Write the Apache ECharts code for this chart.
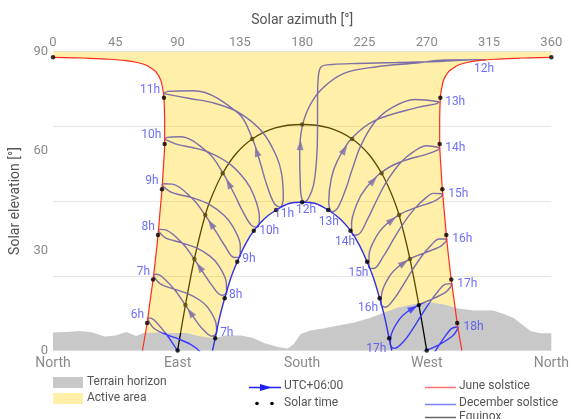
<!DOCTYPE html>
<html>
<head>
<meta charset="utf-8">
<script src="https://cdn.jsdelivr.net/npm/echarts/dist/echarts.min.js"></script>
<style>
html,body{margin:0;padding:0;background:#fff;}
#chart{width:572px;height:419px;}
</style>
</head>
<body>
<div id="chart"></div>
<script>
// Axis labels
const compassLabels = ['North', 'East', 'South', 'West', 'North'];
const hourNames = ['6h','7h','8h','9h','10h','11h','12h','13h','14h','15h','16h','17h','18h'];
const decHourNames = ['7h','8h','9h','10h','11h','12h','13h','14h','15h','16h','17h'];

// Terrain horizon profile [azimuth, elevation]
const terrain = [[0,5.42],[9.30,5.57],[19.32,5.87],[28.63,5.42],[37.22,4.21],[45.09,4.52],[52.96,5.57],[60.12,4.36],[66.56,5.42],[76.58,5.42],[87.32,5.27],[96.62,5.27],[105.21,4.36],[115.23,3.76],[125.25,4.52],[135.99,4.52],[144.58,3.76],[152.45,2.26],[162.47,1.05],[169.63,0.60],[173.92,1.96],[178.93,4.97],[186.09,6.02],[196.11,6.68],[206.13,7.53],[217.58,8.43],[229.03,9.78],[238.33,11.29],[249.07,12.94],[261.23,14.0],[273.40,14.45],[282.71,13.85],[292.73,12.64],[304.18,12.04],[317.78,12.04],[325.65,10.99],[332.81,9.78],[339.25,7.68],[344.98,5.87],[352.13,5.18],[360,5.18]];

// June solstice sun path, morning half (north at noon) and afternoon half
const juneMorning = [[0,88.26],[15.75,88.11],[26.48,87.96],[40.80,87.66],[52.75,87.24],[60.84,86.69],[67.06,85.94],[71.21,84.89],[74.22,83.93],[77.80,81.43],[79.44,78.42],[80.16,76.10],[80.66,69.39],[80.66,62.16],[79.80,55.54],[78.73,48.52],[77.30,41.69],[75.87,34.77],[74.22,28.15],[72.29,21.34],[70.14,14.90],[67.99,8.28],[64.63,0]];
const juneAfternoon = [[360,88.26],[344.25,88.11],[333.52,87.96],[319.20,87.66],[307.25,87.24],[299.16,86.69],[292.94,85.94],[288.79,84.89],[285.78,83.93],[282.20,81.43],[280.56,78.42],[279.84,76.10],[279.34,69.39],[279.34,62.16],[280.20,55.54],[281.27,48.52],[282.70,41.69],[284.13,34.77],[285.78,28.15],[287.71,21.34],[289.86,14.90],[292.01,8.28],[295.37,0]];

// December solstice sun path
const decSolstice = [[115.23,0],[117.16,3.67],[120.53,10.26],[124.03,15.71],[128.40,21.76],[133.12,26.73],[138.85,31.88],[145.08,36.06],[152.88,39.73],[161.25,42.29],[170.41,44.25],[180,44.61],[189.59,44.25],[198.75,42.29],[207.12,39.73],[214.92,36.06],[221.15,31.88],[226.88,26.73],[231.60,21.76],[235.97,15.71],[239.47,10.26],[242.84,3.67],[244.77,0]];

// Equinox sun path
const equinox = [[90,0],[95.69,13.70],[102.13,27.54],[110.01,40.79],[115.83,47.45],[122.60,53.34],[131.89,59.07],[143.86,63.67],[160.54,67.01],[180,68.03],[199.46,67.01],[216.14,63.67],[228.11,59.07],[237.40,53.34],[244.17,47.45],[249.99,40.79],[257.87,27.54],[264.31,13.70],[270,0]];

// Whole solar hours on each path
const juneSolarTime = [[67.99,8.28],[72.29,21.34],[75.87,34.77],[78.73,48.52],[80.66,62.16],[80.16,76.10],[0,88.26],[360,88.26],[279.84,76.10],[279.34,62.16],[281.27,48.52],[284.13,34.77],[287.71,21.34],[292.01,8.28]];
const equinoxSolarTime = [[90,0],[95.69,13.70],[102.13,27.54],[110.01,40.79],[122.60,53.34],[143.86,63.67],[180,68.03],[216.14,63.67],[237.40,53.34],[249.99,40.79],[257.87,27.54],[264.31,13.70],[270,0]];
const decSolarTime = [[117.16,3.67],[124.03,15.71],[133.12,26.73],[145.08,36.06],[161.25,42.29],[180,44.61],[198.75,42.29],[214.92,36.06],[226.88,26.73],[235.97,15.71],[242.84,3.67]];

// Analemmas at each clock hour (UTC+06:00), starting at the June solstice
const ana06 = [[68.38,9.48],[72.27,6.90],[76.88,5.67],[82.80,4.65],[91.37,3.36],[99.67,1.75],[105.20,0.03],[111.39,-3.79],[112.49,-6.83],[109.43,-8.33],[102.33,-6.75],[97.12,-4.26],[89.94,-0.07],[82.71,4.43],[73.06,9.16],[69.23,9.81]];
const ana07 = [[72.62,22.57],[76.92,20.24],[81.96,19.22],[88.22,18.38],[97.27,17.09],[105.85,15.21],[111.48,13.13],[117.42,8.73],[118.21,5.52],[114.97,4.31],[108.04,6.47],[102.90,9.24],[95.66,13.63],[88.12,18.15],[77.65,22.56],[73.50,22.95]];
const ana08 = [[76.13,36.02],[81.21,33.90],[86.98,33.10],[94.03,32.27],[104.06,30.79],[113.37,28.41],[119.31,25.81],[125.08,20.72],[125.42,17.40],[121.87,16.63],[114.91,19.52],[109.67,22.72],[102.10,27.47],[93.93,32.05],[81.90,36.23],[77.14,36.46]];
const ana09 = [[78.86,49.70],[85.30,47.64],[92.32,46.82],[100.97,45.92],[113.13,43.91],[123.73,40.62],[129.96,37.30],[135.32,31.49],[135.00,28.18],[130.95,27.98],[123.76,31.75],[118.23,35.46],[109.97,40.72],[100.79,45.69],[86.15,50.07],[80.08,50.17]];
const ana10 = [[80.76,63.56],[90.35,61.95],[100.48,61.10],[112.72,59.63],[128.01,56.02],[139.39,51.03],[145.12,46.66],[149.10,40.13],[147.83,37.13],[143.33,37.66],[136.36,42.44],[131.14,46.96],[122.69,53.46],[112.38,59.43],[91.78,64.32],[82.44,64.14]];
const ana11 = [[79.98,77.32],[98.81,75.85],[116.78,74.41],[134.58,71.54],[151.69,65.56],[161.37,58.52],[165.2,53.11],[166.37,45.88],[164.0,43.11],[159.57,44.42],[153.85,50.61],[150.11,55.98],[144.06,63.71],[134.0,71.37],[101.58,78.19],[83.06,78.0]];
const ana12 = [[312.8,87.55],[298.46,87.45],[276.98,87.0],[248.35,86.69],[219.73,86.39],[201.83,86.09],[193.96,85.49],[191.81,82.93],[191.10,75.41],[191.10,66.38],[190.39,57.35],[188.23,49.83],[184.66,45.90],[181.44,44.70],[179.29,46.51],[178.57,51.32],[178.21,58.25],[179.14,65.38],[183.94,72.39],[193.46,78.42],[210.21,83.44],[234.04,85.43],[262.67,86.54],[282.92,87.45]];
const ana13 = [[279.31,74.81],[261.52,75.53],[245.59,73.28],[232.87,69.0],[222.3,61.6],[215.75,54.0],[211.64,48.75],[205.6,42.83],[201.44,41.73],[199.19,44.73],[201.11,51.92],[205.52,57.14],[215.66,63.79],[232.41,69.19],[263.57,73.18],[276.64,74.25]];
const ana14 = [[279.40,61.03],[269.81,61.62],[260.58,59.86],[250.99,56.51],[240.37,50.40],[232.37,43.96],[227.26,39.53],[220.31,34.85],[216.49,34.71],[215.70,38.20],[219.97,44.55],[225.86,48.76],[237.14,53.57],[250.81,56.74],[270.66,59.19],[278.04,60.38]];
const ana15 = [[281.60,47.18],[274.81,47.31],[268.27,45.56],[261.07,42.62],[251.92,37.54],[244.06,32.12],[238.76,28.40],[231.72,24.68],[228.27,25.04],[228.32,28.68],[233.66,34.39],[239.78,37.62],[249.93,40.85],[260.97,42.84],[275.50,44.98],[280.68,46.44]];
const ana16 = [[284.46,33.54],[278.89,33.58],[273.49,31.86],[267.43,28.97],[259.45,24.15],[252.14,19.17],[247.03,15.92],[240.16,13.04],[237.02,13.86],[237.59,17.42],[243.21,22.46],[248.92,25.07],[257.83,27.61],[267.33,29.20],[279.62,31.26],[283.77,32.80]];
const ana17 = [[288.10,20.14],[283.18,19.92],[278.50,17.99],[273.11,15.07],[265.71,10.34],[258.63,5.69],[253.56,2.83],[246.65,0.63],[243.68,1.77],[244.61,5.14],[250.46,9.53],[255.96,11.66],[264.28,13.77],[273.02,15.29],[283.97,17.66],[287.59,19.36]];
const ana18 = [[292.50,7.16],[287.85,6.59],[283.61,4.47],[278.54,1.38],[271.45,-3.39],[264.33,-7.90],[259.08,-10.53],[251.89,-12.19],[249.01,-10.73],[250.23,-7.47],[256.40,-3.61],[261.86,-1.80],[270.01,0.07],[278.45,1.61],[288.80,4.43],[292.08,6.38]];

const analemmas = [ana06, ana07, ana08, ana09, ana10, ana11, ana12, ana13, ana14, ana15, ana16, ana17, ana18];
// index of the point after which the direction arrow sits (null: no arrow)
const arrowAfter = [null, 11, 11, 11, 11, 11, 16, 11, 11, 11, 11, 11, null];
// index of the December end of each analemma
const decEndIdx = [8, 8, 8, 8, 8, 8, 13, 8, 8, 8, 8, 8, 8];

// ---- styling ----
const FONT = 'Roboto, "Noto Sans", sans-serif';
const C_TERRAIN = '#c8c8c8';
const C_OVERLAY = 'rgba(255,209,6,0.35)';
const C_OVERLAY_SOLID = '#ffefa8';
const C_LOOP = '#3a3aff';
const C_JUNE = '#ff2b1c';
const C_DEC = '#3030e6';
const C_LABEL = '#4848f4';

function terrainAt(az) {
  for (let i = 1; i < terrain.length; i++) {
    const a = terrain[i - 1], b = terrain[i];
    if (az <= b[0]) {
      const t = (az - a[0]) / (b[0] - a[0]);
      return a[1] + t * (b[1] - a[1]);
    }
  }
  return terrain[terrain.length - 1][1];
}
// part of a path lying above the terrain, with its horizon crossings
function aboveRun(pts) {
  const out = [];
  let prev = null, dPrev = 0;
  for (const p of pts) {
    const d = p[1] - terrainAt(p[0]);
    if (prev && ((dPrev < 0) !== (d < 0))) {
      const t = dPrev / (dPrev - d);
      out.push([prev[0] + t * (p[0] - prev[0]), prev[1] + t * (p[1] - prev[1])]);
    }
    if (d >= 0) out.push(p);
    prev = p; dPrev = d;
  }
  return out;
}
function terrainBetween(hi, lo) {
  return terrain.filter(p => p[0] < hi && p[0] > lo).sort((a, b) => b[0] - a[0]);
}

const jR = aboveRun(juneAfternoon);
const jL = aboveRun(juneMorning);
const dA = aboveRun(decSolstice.slice().reverse());
const activeArea = [[0, 90], [360, 90]]
  .concat(jR)
  .concat(terrainBetween(jR[jR.length - 1][0], dA[0][0]))
  .concat(dA)
  .concat(terrainBetween(dA[dA.length - 1][0], jL[jL.length - 1][0]))
  .concat(jL.slice().reverse());

const chart = echarts.init(document.getElementById('chart'), null, { renderer: 'canvas' });

const series = [];
series.push({
  id: 'terrain', type: 'line', data: terrain, symbol: 'none', z: 1,
  lineStyle: { width: 0 }, areaStyle: { color: C_TERRAIN, opacity: 1 },
  silent: true, animation: false
});
series.push({
  id: 'equinox', type: 'line', data: equinox, smooth: 0.3, symbol: 'none', z: 2,
  lineStyle: { color: '#000', width: 1.3 }, silent: true, animation: false
});
analemmas.forEach((pts, i) => {
  series.push({
    id: 'loop' + i, type: 'line', data: pts.concat([pts[0]]), smooth: 0.35, symbol: 'none', z: 2,
    lineStyle: { color: C_LOOP, width: 1.4 }, silent: true, animation: false
  });
});
series.push({
  id: 'eqDots', type: 'scatter', data: equinoxSolarTime, symbolSize: 4.5, z: 2,
  itemStyle: { color: '#000' }, silent: true, animation: false
});
series.push({
  id: 'active', type: 'custom', z: 3, silent: true, animation: false, clip: true,
  data: [[180, 45]],
  renderItem: (params, api) => ({
    type: 'polygon',
    shape: { points: activeArea.map(p => api.coord(p)) },
    style: { fill: C_OVERLAY }
  })
});
series.push({
  id: 'juneAm', type: 'line', data: juneMorning, smooth: 0.3, symbol: 'none', z: 4,
  lineStyle: { color: C_JUNE, width: 1.2 }, silent: true, animation: false
});
series.push({
  id: 'junePm', type: 'line', data: juneAfternoon, smooth: 0.3, symbol: 'none', z: 4,
  lineStyle: { color: C_JUNE, width: 1.2 }, silent: true, animation: false
});
series.push({
  id: 'dec', type: 'line', data: decSolstice, smooth: 0.3, symbol: 'none', z: 4,
  lineStyle: { color: C_DEC, width: 1.4 }, silent: true, animation: false
});
series.push({
  id: 'pathDots', type: 'scatter', data: juneSolarTime.concat(decSolarTime), symbolSize: 4.5, z: 5,
  itemStyle: { color: '#000' }, silent: true, animation: false
});

// hour labels at the ends of each analemma
const labelBase = { show: true, color: C_LABEL, fontSize: 12, fontFamily: FONT };
const juneLabels = analemmas.map((pts, i) => {
  let label;
  if (i < 6) label = Object.assign({}, labelBase, { formatter: hourNames[i], position: 'left', distance: 3, offset: [0, -4] });
  else if (i === 6) label = Object.assign({}, labelBase, { formatter: hourNames[i], position: 'bottom', distance: 3, offset: [-2, 0] });
  else label = Object.assign({}, labelBase, { formatter: hourNames[i], position: 'right', distance: 5, offset: [0, 0] });
  return { value: pts[0], label };
});
const decLabelPlace = [
  ['right', 3, [0, 1]], ['right', 2, [0, 2]], ['right', 2, [0, 2]], ['right', 1, [0, 4]],
  ['bottom', 2, [4, -2]], ['bottom', 2, [2, 0]], ['bottom', 4, [-3, 0]],
  ['left', -3, [0, 7]], ['left', 0, [0, 6]], ['left', 2.5, [0, 4]], ['left', 3.5, [0, 4.5]]
];
const decLabels = decHourNames.map((name, k) => {
  const i = k + 1;
  const pts = analemmas[i];
  const pl = decLabelPlace[k];
  return {
    value: pts[decEndIdx[i]],
    label: Object.assign({}, labelBase, { formatter: name, position: pl[0], distance: pl[1], offset: pl[2] })
  };
});
series.push({
  id: 'labels', type: 'scatter', data: juneLabels.concat(decLabels), symbolSize: 1, z: 6,
  itemStyle: { color: 'rgba(0,0,0,0)' }, silent: true, animation: false
});

const option = {
  animation: false,
  backgroundColor: '#fff',
  grid: { left: 53, right: 16, top: 51.5, bottom: 68.5, containLabel: false },
  xAxis: [
    {
      type: 'value', position: 'top', min: 0, max: 360, interval: 45,
      name: 'Solar azimuth [°]', nameLocation: 'middle', nameGap: 24,
      nameTextStyle: { color: '#555', fontSize: 14, fontFamily: FONT },
      axisLine: { show: false }, axisTick: { show: false }, splitLine: { show: false },
      axisLabel: { color: '#8a8a8a', fontSize: 13, fontFamily: FONT, margin: 2, showMinLabel: true, showMaxLabel: true }
    },
    {
      type: 'value', position: 'bottom', min: 0, max: 360, interval: 90,
      axisLine: { show: false }, axisTick: { show: false }, splitLine: { show: false },
      axisLabel: {
        color: '#8a8a8a', fontSize: 14, fontFamily: FONT, margin: 6, showMinLabel: true, showMaxLabel: true,
        formatter: v => compassLabels[Math.round(v / 90)]
      }
    }
  ],
  yAxis: [
    {
      type: 'value', min: 0, max: 90, interval: 30,
      name: 'Solar elevation [°]', nameLocation: 'middle', nameGap: 27, nameRotate: 90,
      nameTextStyle: { color: '#555', fontSize: 14, fontFamily: FONT },
      axisLine: { show: false }, axisTick: { show: false }, splitLine: { show: false },
      axisLabel: { color: '#8a8a8a', fontSize: 13, fontFamily: FONT, margin: 5 }
    },
    {
      type: 'value', min: 0, max: 90, interval: 22.5, position: 'left',
      axisLine: { show: false }, axisTick: { show: false }, axisLabel: { show: false },
      splitLine: { show: true, lineStyle: { color: '#e4e4e4', width: 1 } }
    }
  ],
  series: series,
  graphic: [
    { type: 'rect', left: 53, top: 377, shape: { width: 30, height: 11 }, style: { fill: C_TERRAIN } },
    { type: 'text', left: 87, top: 376, style: { text: 'Terrain horizon', fill: '#555', font: '12px ' + FONT } },
    { type: 'rect', left: 53, top: 393, shape: { width: 30, height: 11 }, style: { fill: C_OVERLAY_SOLID } },
    { type: 'text', left: 87, top: 392, style: { text: 'Active area', fill: '#555', font: '12px ' + FONT } },
    { type: 'line', shape: { x1: 249, y1: 387.5, x2: 281, y2: 387.5 }, style: { stroke: '#2020ff', lineWidth: 1.5 } },
    { type: 'polygon', shape: { points: [[260, 384], [272, 387.5], [260, 391]] }, style: { fill: '#2020ff' } },
    { type: 'text', left: 284, top: 379.5, style: { text: 'UTC+06:00', fill: '#555', font: '12px ' + FONT } },
    { type: 'circle', shape: { cx: 257, cy: 403.5, r: 1.8 }, style: { fill: '#000' } },
    { type: 'circle', shape: { cx: 272, cy: 403.5, r: 1.8 }, style: { fill: '#000' } },
    { type: 'text', left: 284, top: 397, style: { text: 'Solar time', fill: '#555', font: '12px ' + FONT } },
    { type: 'line', shape: { x1: 425, y1: 387.5, x2: 456, y2: 387.5 }, style: { stroke: '#ff7070', lineWidth: 1.5 } },
    { type: 'text', left: 459, top: 379.5, style: { text: 'June solstice', fill: '#555', font: '12px ' + FONT } },
    { type: 'line', shape: { x1: 425, y1: 404.5, x2: 456, y2: 404.5 }, style: { stroke: '#7d7dff', lineWidth: 1.5 } },
    { type: 'text', left: 459, top: 396.5, style: { text: 'December solstice', fill: '#555', font: '12px ' + FONT } },
    { type: 'line', shape: { x1: 425, y1: 417.5, x2: 456, y2: 417.5 }, style: { stroke: '#666', lineWidth: 1.5 } },
    { type: 'text', left: 459, top: 411, style: { text: 'Equinox', fill: '#555', font: '12px ' + FONT } }
  ]
};
chart.setOption(option);

// direction arrows along each analemma, oriented with the plotted curve
const arrowData = [];
analemmas.forEach((pts, i) => {
  const k = arrowAfter[i];
  if (k === null) return;
  const a = pts[k], b = pts[k + 1];
  const pa = chart.convertToPixel({ xAxisIndex: 0, yAxisIndex: 0 }, a);
  const pb = chart.convertToPixel({ xAxisIndex: 0, yAxisIndex: 0 }, b);
  const ang = Math.atan2(-(pb[1] - pa[1]), pb[0] - pa[0]) * 180 / Math.PI - 90;
  arrowData.push({ value: [(a[0] + b[0]) / 2, (a[1] + b[1]) / 2], symbolRotate: ang });
});
chart.setOption({
  series: [{
    id: 'arrows', type: 'scatter', data: arrowData, symbol: 'triangle', symbolSize: [7, 10], z: 2,
    itemStyle: { color: C_LOOP }, silent: true, animation: false
  }]
});
</script>
</body>
</html>
